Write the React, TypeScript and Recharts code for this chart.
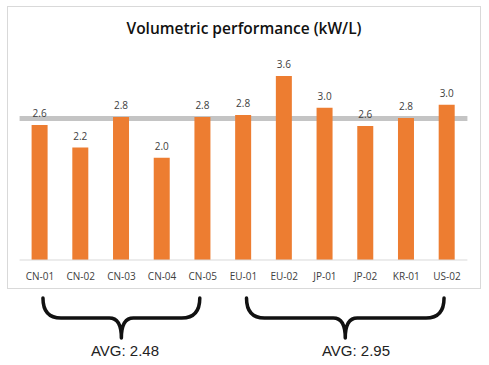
import { BarChart, Bar, XAxis, YAxis, ReferenceLine, LabelList } from 'recharts';

const categories = ['CN-01', 'CN-02', 'CN-03', 'CN-04', 'CN-05', 'EU-01', 'EU-02', 'JP-01', 'JP-02', 'KR-01', 'US-02'];
const values = [2.64, 2.2, 2.8, 2.0, 2.8, 2.84, 3.6, 2.98, 2.62, 2.78, 3.04];
const overallAvg = 2.77;
const groupLabels = ['AVG: 2.48', 'AVG: 2.95'];
const groupRanges = [[0, 4], [5, 10]];

const data = categories.map((name, i) => ({ name, value: values[i] }));

const W = 489;
const H = 365;
const PLOT_L = 19.6;
const PLOT_R = 467.4;
const band = (PLOT_R - PLOT_L) / categories.length;
const cx = (i: number) => PLOT_L + band * (i + 0.5);

function brace(x1: number, x2: number, xc: number) {
  const y0 = 298, ym = 318, yt = 338;
  return `M ${x1} ${y0} Q ${x1} ${ym} ${x1 + 18} ${ym} L ${xc - 12} ${ym} Q ${xc} ${ym} ${xc} ${yt} Q ${xc} ${ym} ${xc + 12} ${ym} L ${x2 - 18} ${ym} Q ${x2} ${ym} ${x2} ${y0}`;
}

export default function App() {
  const textX = [125, 356];
  return (
    <div style={{ position: 'absolute', left: 0, top: 0, width: W, height: H, background: '#fff' }}>
      <svg width={W} height={H} style={{ position: 'absolute', left: 0, top: 0 }}>
        <rect x={7.5} y={6.5} width={473} height={282} fill="#fff" stroke="#d9d9d9" />
      </svg>
      <div style={{ position: 'absolute', left: 0, top: 0 }}>
        <BarChart width={W} height={H} data={data} margin={{ top: 55.6, right: W - PLOT_R, left: PLOT_L, bottom: 89 }}>
          <YAxis hide domain={[0, 4]} />
          <XAxis
            dataKey="name"
            height={16}
            axisLine={{ stroke: '#d9d9d9' }}
            tickLine={false}
            tickMargin={7}
            interval={0}
            tick={{ fill: '#404040', fontSize: 10, fontFamily: 'Open Sans' }}
          />
          <ReferenceLine y={overallAvg} stroke="#c4c4c4" strokeWidth={5} ifOverflow="extendDomain" zIndex={50} />
          <Bar dataKey="value" fill="#ed7d31" barSize={16} isAnimationActive={false} zIndex={300}>
            <LabelList
              dataKey="value"
              position="top"
              offset={8}
              formatter={(v: any) => Number(v).toFixed(1)}
              style={{ fill: '#404040', fontSize: 10, fontFamily: 'Open Sans' }}
            />
          </Bar>
        </BarChart>
      </div>
      <svg width={W} height={H} style={{ position: 'absolute', left: 0, top: 0, pointerEvents: 'none' }}>
        <text x={244} y={34} textAnchor="middle" fontFamily="Open Sans" fontWeight={600} fontSize={15.5} fill="#111">
          Volumetric performance (kW/L)
        </text>
        {groupRanges.map(([a, b], i) => {
          const x1 = cx(a) + 3;
          const x2 = cx(b) - 3;
          const xc = (x1 + x2) / 2;
          return (
            <g key={i}>
              <path d={brace(x1, x2, xc)} fill="none" stroke="#111" strokeWidth={3.5} strokeLinecap="round" strokeLinejoin="round" />
              <text x={textX[i]} y={356} textAnchor="middle" fontFamily="Liberation Sans" fontSize={15} fill="#222">
                {groupLabels[i]}
              </text>
            </g>
          );
        })}
      </svg>
    </div>
  );
}
